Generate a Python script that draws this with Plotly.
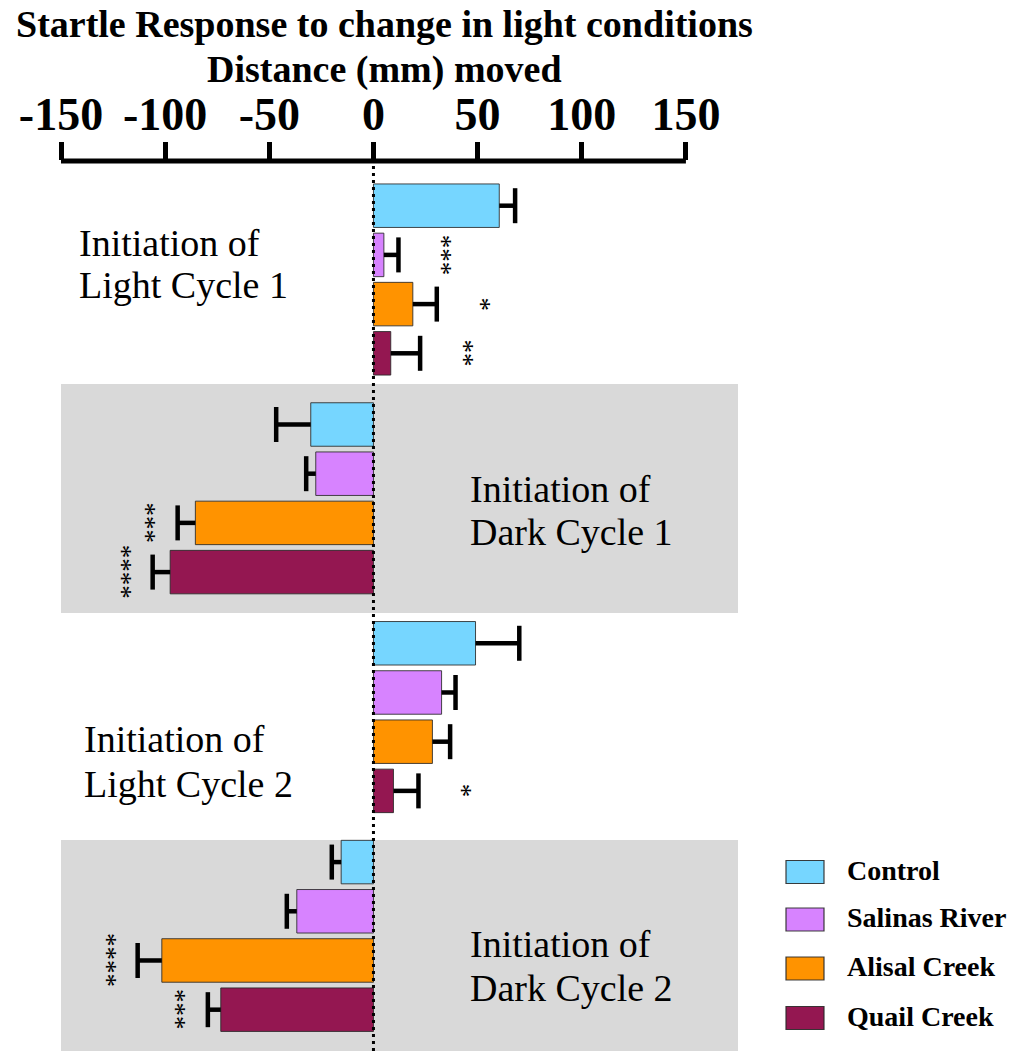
import plotly.graph_objects as go

# ---------------- data ----------------
conditions = ["Initiation of Light Cycle 1", "Initiation of Dark Cycle 1",
              "Initiation of Light Cycle 2", "Initiation of Dark Cycle 2"]
series_names = ["Control", "Salinas River", "Alisal Creek", "Quail Creek"]
series_colors = ["#76D6FF", "#D783FF", "#FF9300", "#941751"]

control_mean = [60.4, -30.1, 49.0, -15.5]
salinas_mean = [5.0, -27.7, 32.7, -36.8]
alisal_mean = [18.9, -85.5, 28.3, -101.6]
quail_mean = [8.3, -97.6, 9.6, -73.3]

control_sem = [7.6, 16.6, 21.0, 4.5]
salinas_sem = [7.0, 4.6, 6.7, 4.8]
alisal_sem = [11.5, 8.5, 8.5, 11.6]
quail_sem = [14.1, 8.4, 12.0, 6.2]

control_sig = ["", "", "", ""]
salinas_sig = ["***", "", "", ""]
alisal_sig = ["*", "***", "", "****"]
quail_sig = ["**", "****", "*", "***"]

tick_values = [-150, -100, -50, 0, 50, 100, 150]

means = [control_mean, salinas_mean, alisal_mean, quail_mean]
sems = [control_sem, salinas_sem, alisal_sem, quail_sem]
sigs = [control_sig, salinas_sig, alisal_sig, quail_sig]

# ---------------- geometry ----------------
W, H = 1013, 1051
PL, PR, PT, PB = 61, 738, 161, 1051          # plot area in pixels
ROW_PX = 49.2
FIRST_CENTER_PX = 205.7
GROUP_STEP = 4.447                            # rows between group starts
BAR_W = 0.884

def ypos(g, i):
    return g * GROUP_STEP + i

def px_to_row(p):
    return (p - FIRST_CENTER_PX) / ROW_PX

def pyp(p):   # pixel y -> paper y
    return (PB - p) / (PB - PT)

def pxp(p):   # pixel x -> paper x
    return (p - PL) / (PR - PL)

SERIF = "Liberation Serif"

fig = go.Figure()

# bars
for s, name in enumerate(series_names):
    ys = [ypos(g, s) for g in range(len(conditions))]
    fig.add_trace(go.Bar(
        x=means[s], y=ys, orientation="h", width=BAR_W,
        marker=dict(color=series_colors[s], line=dict(color="rgba(40,40,40,0.85)", width=1)),
        name=name, showlegend=False, hoverinfo="skip"))

# error bars (one-sided, away from zero)
for s in range(len(series_names)):
    lx, ly, cx, cy = [], [], [], []
    for g in range(len(conditions)):
        m, e = means[s][g], sems[s][g]
        end = m + e if m >= 0 else m - e
        lx += [m, end, None]
        ly += [ypos(g, s)] * 2 + [None]
        cx.append(end)
        cy.append(ypos(g, s))
    fig.add_trace(go.Scatter(x=lx, y=ly, mode="lines",
                             line=dict(color="black", width=4.5),
                             showlegend=False, hoverinfo="skip"))
    fig.add_trace(go.Scatter(x=cx, y=cy, mode="markers",
                             marker=dict(symbol="line-ns", size=25,
                                         line=dict(color="black", width=4.5)),
                             showlegend=False, hoverinfo="skip"))

# significance stars
annotations = []
for s in range(len(series_names)):
    for g in range(len(conditions)):
        txt = sigs[s][g]
        if not txt:
            continue
        m, e = means[s][g], sems[s][g]
        xs = m + e + 21 if m >= 0 else m - e - 15
        annotations.append(dict(x=xs, y=ypos(g, s), xref="x", yref="y",
                                text=txt, showarrow=False, textangle=90,
                                font=dict(family=SERIF, size=27, color="black"),
                                xanchor="center", yanchor="middle"))

# condition labels (two lines each)
label_specs = [  # (left px, baseline line1, baseline line2)
    (77, 256, 298),
    (468, 502, 545),
    (82, 752, 797),
    (468, 957, 1001),
]
LBL_FS = 38
for (lx, b1, b2), cond in zip(label_specs, conditions):
    first, second = cond[:13], cond[14:]
    for txt, b in ((first, b1), (second, b2)):
        annotations.append(dict(x=pxp(lx), y=pyp(b - 0.34 * LBL_FS), xref="paper", yref="paper",
                                text=txt, showarrow=False, xanchor="left", yanchor="middle",
                                font=dict(family=SERIF, size=LBL_FS, color="black")))

# title
for txt, b in (("Startle Response to change in light conditions", 37),
               ("Distance (mm) moved", 82)):
    annotations.append(dict(x=pxp(384), y=pyp(b - 0.34 * 38), xref="paper", yref="paper",
                            text=txt, showarrow=False, xanchor="center", yanchor="middle",
                            font=dict(family=SERIF, size=38, color="black", weight="bold")))

# legend
shapes = []
leg_centers = [872, 919.5, 968.5, 1018]
for name, col, c in zip(series_names, series_colors, leg_centers):
    shapes.append(dict(type="rect", xref="paper", yref="paper",
                       x0=pxp(786), x1=pxp(824), y0=pyp(c + 11.5), y1=pyp(c - 11.5),
                       fillcolor=col, line=dict(color="rgba(40,40,40,0.9)", width=1.2)))
    annotations.append(dict(x=pxp(845), y=pyp(c - 2), xref="paper", yref="paper",
                            text=name, showarrow=False, xanchor="left", yanchor="middle",
                            font=dict(family=SERIF, size=28, color="black", weight="bold")))

# dark-cycle background bands
for y0p, y1p in ((384, 613), (840, PB)):
    shapes.append(dict(type="rect", xref="x", yref="y", layer="below",
                       x0=-150, x1=175, y0=px_to_row(y0p), y1=px_to_row(y1p),
                       fillcolor="#D9D9D9", line=dict(width=0)))

# axis baseline (only from -150 to 150)
shapes.append(dict(type="line", xref="x", yref="paper", x0=-150, x1=150, y0=1, y1=1,
                   line=dict(color="black", width=5)))
# dotted zero line
shapes.append(dict(type="line", xref="x", yref="paper", x0=0, x1=0, y0=0, y1=pyp(166),
                   layer="above", line=dict(color="black", width=3, dash="3px,4px")))

fig.update_layout(
    width=W, height=H,
    margin=dict(l=PL, r=W - PR, t=PT, b=H - PB, pad=0),
    paper_bgcolor="white", plot_bgcolor="white",
    barmode="overlay",
    showlegend=False,
    shapes=shapes, annotations=annotations,
    xaxis=dict(range=[-150, 175], side="top", tickvals=tick_values,
               ticktext=[str(v) for v in tick_values],
               ticks="outside", ticklen=18, tickwidth=5, tickcolor="black",
               ticklabelstandoff=-6,
               tickfont=dict(family=SERIF, size=46, color="black", weight="bold"),
               showgrid=False, zeroline=False, showline=False, fixedrange=True),
    yaxis=dict(range=[px_to_row(PB), px_to_row(PT)], showticklabels=False, ticks="",
               showgrid=False, zeroline=False, showline=False, fixedrange=True),
)

fig.write_html("out.html")
